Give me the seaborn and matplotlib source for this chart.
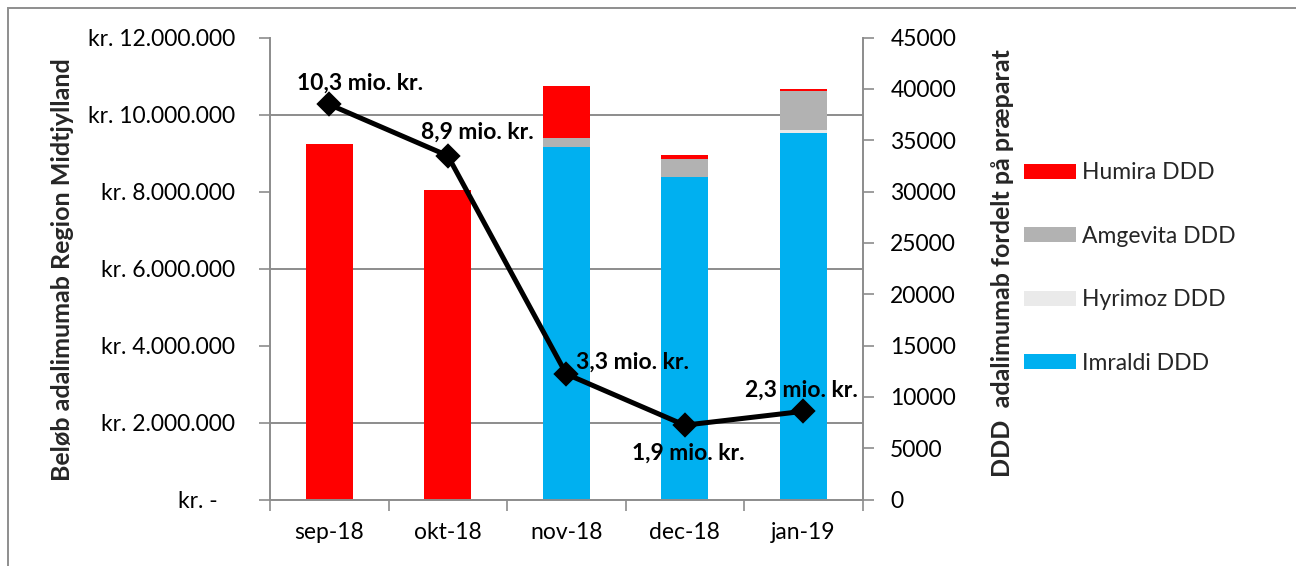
import matplotlib
matplotlib.use("Agg")
import matplotlib.pyplot as plt
import matplotlib.ticker as mticker
from matplotlib.patches import Patch, Rectangle
import numpy as np
import seaborn as sns

# ---------------- data ----------------
months = ["sep-18", "okt-18", "nov-18", "dec-18", "jan-19"]
amount_kr = [10.26e6, 8.93e6, 3.26e6, 1.93e6, 2.29e6]
amount_labels = ["10,3 mio. kr.", "8,9 mio. kr.", "3,3 mio. kr.", "1,9 mio. kr.", "2,3 mio. kr."]
humira_ddd = [34600, 30100, 5060, 385, 165]
amgevita_ddd = [0, 0, 870, 1805, 3820]
hyrimoz_ddd = [0, 0, 0, 0, 232]
imraldi_ddd = [0, 0, 34371, 31380, 35722]

series_names = ["Imraldi DDD", "Hyrimoz DDD", "Amgevita DDD", "Humira DDD"]  # bottom -> top
series_values = [imraldi_ddd, hyrimoz_ddd, amgevita_ddd, humira_ddd]
series_colors = ["#00B0F0", "#EAEAEA", "#B2B2B2", "#FF0000"]

left_ticks = [0, 2e6, 4e6, 6e6, 8e6, 10e6, 12e6]
right_ticks = [0, 5000, 10000, 15000, 20000, 25000, 30000, 35000, 40000, 45000]

# label offsets (pixels) relative to the line markers
label_dx = [31, 30, 66, 4, -2]
label_dy = [21, 23, 12, -28, 21]

# ---------------- style ----------------
sns.set_theme(style="white")
plt.rcParams["font.family"] = ["Lato", "DejaVu Sans"]
GREY = "#8C8C8C"
FS = 16.5
FS_TITLE = 18

W, H = 1296, 566
fig = plt.figure(figsize=(W / 100, H / 100), dpi=100)
x0, x1, y0, y1 = 270, 862.5, 37.5, 499.5
ax = fig.add_axes([x0 / W, 1 - y1 / H, (x1 - x0) / W, (y1 - y0) / H])

# stacked bars (drawn as overlapping cumulative bars)
cum = np.cumsum(np.array(series_values, dtype=float), axis=0)
for i in range(len(series_names) - 1, -1, -1):
    sns.barplot(x=months, y=cum[i], color=series_colors[i], saturation=1,
                width=0.4, errorbar=None, linewidth=0, ax=ax, zorder=2)

# line on secondary axis (left side)
ax2 = ax.twinx()
sns.pointplot(x=months, y=amount_kr, ax=ax2, color="black", markers="D",
              markersize=10, linewidth=3.6, errorbar=None, zorder=5)

# ---- bar axis (right side) ----
ax.set_ylim(0, 45000)
ax.set_xlim(-0.5, 4.5)
ax.yaxis.tick_right()
ax.yaxis.set_label_position("right")
ax.set_yticks(right_ticks)
ax.yaxis.set_major_formatter(mticker.FuncFormatter(lambda v, p: f"{int(v)}"))
ax.set_yticks(np.arange(0, 45001, 7500), minor=True)
ax.grid(False)
ax.grid(which="minor", axis="y", color=GREY, lw=1.4)
ax.set_axisbelow(True)
ax.tick_params(axis="y", which="major", right=True, left=False, labelright=True, labelleft=False,
               length=8, width=1.2, color=GREY, direction="out", pad=12, labelsize=FS,
               labelcolor="black")
ax.tick_params(axis="y", which="minor", length=0)
ax.set_ylabel("")
ax.set_xlabel("")
for s in ["top", "left"]:
    ax.spines[s].set_visible(False)
for s in ["right", "bottom"]:
    ax.spines[s].set_color(GREY)
    ax.spines[s].set_linewidth(1.4)

# ---- amount axis (left side) ----
ax2.set_ylim(0, 12e6)
ax2.yaxis.tick_left()
ax2.yaxis.set_label_position("left")
ax2.set_yticks(left_ticks)


def kr_fmt(v, p):
    if v == 0:
        return "kr. -   "
    return "kr. " + f"{int(v):,}".replace(",", ".")


ax2.yaxis.set_major_formatter(mticker.FuncFormatter(kr_fmt))
ax2.tick_params(axis="y", left=True, right=False, labelleft=True, labelright=False,
                length=8, width=1.2, color=GREY, direction="out", pad=17, labelsize=FS,
                labelcolor="black")
ax2.set_ylabel("")
ax2.set_xlabel("")
for s in ["top", "right", "bottom"]:
    ax2.spines[s].set_visible(False)
ax2.spines["left"].set_color(GREY)
ax2.spines["left"].set_linewidth(1.4)
ax2.grid(False)

for i, lbl in enumerate(amount_labels):
    ax2.annotate(lbl, xy=(i, amount_kr[i]), xytext=(label_dx[i], label_dy[i]),
                 textcoords="offset pixels", ha="center", va="center",
                 fontsize=FS, fontweight="bold", color="black", zorder=6)

# x axis ticks: labels at categories, tick marks between categories
ax.set_xlim(-0.5, 4.5)
ax.set_xticks(range(len(months)))
ax.set_xticklabels(months)
ax.set_xticks(np.arange(-0.5, len(months), 1.0), minor=True)
ax.tick_params(axis="x", which="major", length=0, pad=16, labelsize=FS, labelcolor="black")
ax.tick_params(axis="x", which="minor", bottom=True, length=8, width=1.2, color=GREY, direction="out")

# axis titles
fig.text(63 / W, 1 - 270 / H, "Beløb adalimumab Region Midtjylland", rotation=90,
         ha="center", va="center", fontsize=FS_TITLE, fontweight="bold")
fig.text(1002 / W, 1 - 263 / H, "DDD  adalimumab fordelt på præparat", rotation=90,
         ha="center", va="center", fontsize=FS_TITLE, fontweight="bold")

# legend
order = [3, 2, 1, 0]
handles = [Patch(facecolor=series_colors[i], edgecolor="none", label=series_names[i]) for i in order]
fig.legend(handles=handles, loc="center left", bbox_to_anchor=(1024 / W, 1 - 268 / H),
           frameon=False, fontsize=FS, handlelength=2.27, handleheight=0.63,
           handletextpad=0.26, labelspacing=1.85, borderpad=0, borderaxespad=0)

# chart border
fig.patches.append(Rectangle((8 / W, -0.1), 1.2, 1 - 8 / H + 0.1, transform=fig.transFigure,
                             fill=False, edgecolor="#8E8E8E", lw=1.4))

fig.savefig("out.png", dpi=100)
